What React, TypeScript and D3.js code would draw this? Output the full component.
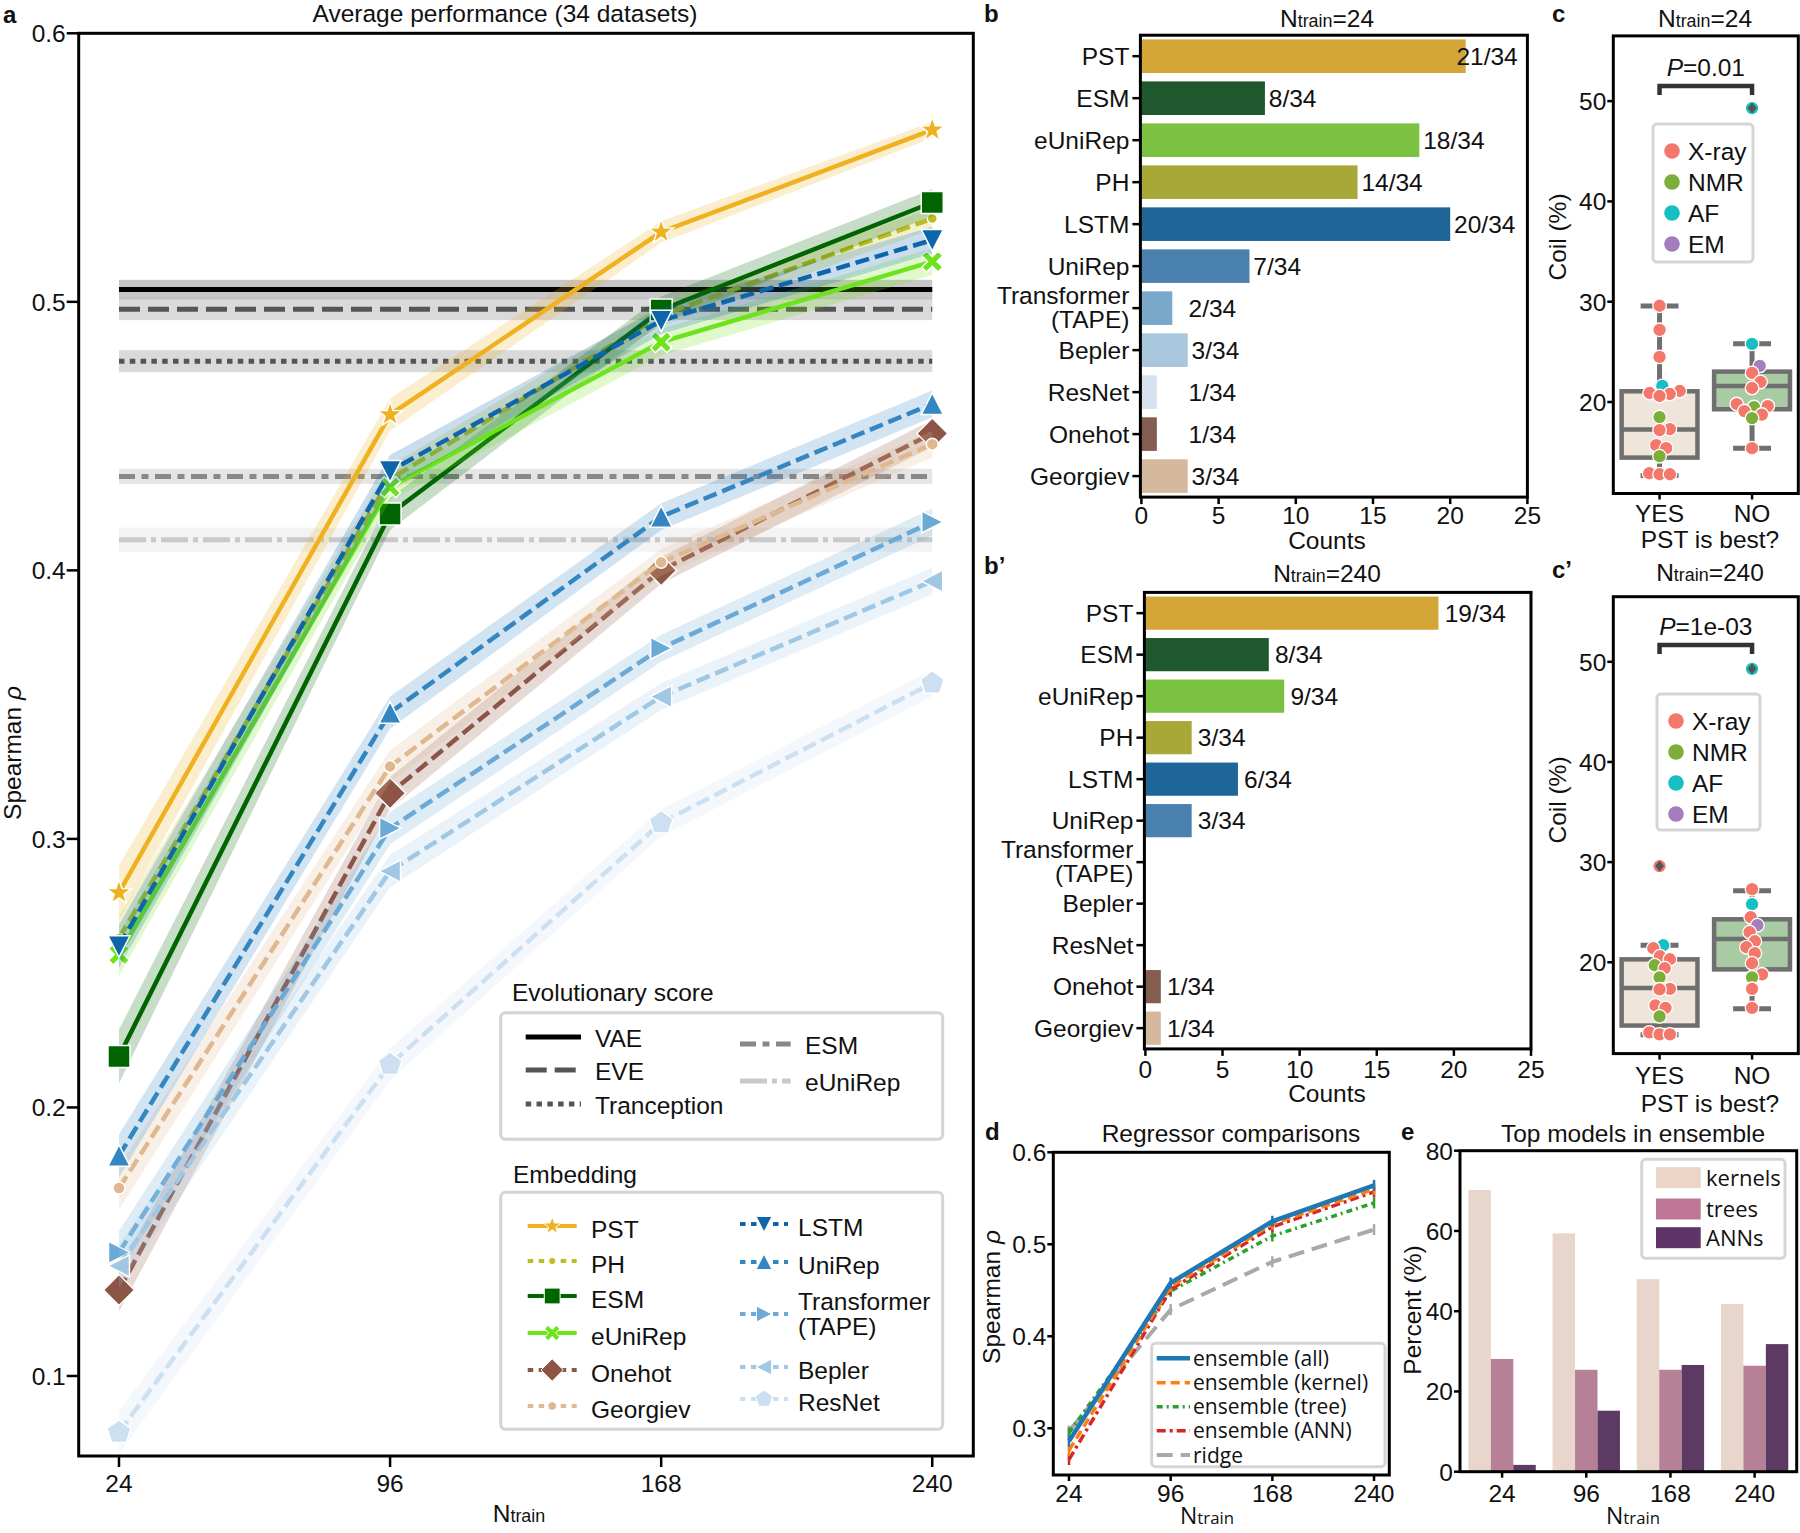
import React, { useEffect } from 'react';
import * as d3 from 'd3';

const FONT = "'Liberation Sans', Arial, Helvetica, sans-serif";
const FONT_ALT = "'Open Sans', 'Liberation Sans', sans-serif";
const FS = 24.5;
const INK = '#111';
const LETTER_FS = 24;

// ---------------- shared ----------------
const nTrain = [24, 96, 168, 240];
const nTrainLabels = ['24', '96', '168', '240'];

// ---------------- panel a data ----------------
const aYTicks = [0.1, 0.2, 0.3, 0.4, 0.5, 0.6];
const evoNames = ['VAE', 'EVE', 'Tranception', 'ESM', 'eUniRep'];
const evoRho = [0.5046, 0.4972, 0.4779, 0.435, 0.4114];
const evoSe = [0.0036, 0.004, 0.0041, 0.0028, 0.0045];

const embNames = ['PST', 'PH', 'ESM', 'eUniRep', 'Onehot', 'Georgiev', 'LSTM', 'UniRep', 'Transformer (TAPE)', 'Bepler', 'ResNet'];
const pstRho = [0.28, 0.458, 0.526, 0.564];
const phRho = [0.263, 0.434, 0.495, 0.531];
const esmRho = [0.219, 0.421, 0.497, 0.537];
const eunirepRho = [0.257, 0.431, 0.485, 0.515];
const onehotRho = [0.132, 0.317, 0.4, 0.451];
const georgievRho = [0.17, 0.327, 0.403, 0.447];
const lstmRho = [0.26, 0.437, 0.493, 0.523];
const unirepRho = [0.182, 0.347, 0.42, 0.462];
const tapeRho = [0.146, 0.304, 0.371, 0.418];
const beplerRho = [0.141, 0.288, 0.353, 0.396];
const resnetRho = [0.079, 0.216, 0.306, 0.358];

const pstSe = [0.01, 0.006, 0.004, 0.003];
const phSe = [0.008, 0.005, 0.004, 0.004];
const esmSe = [0.01, 0.006, 0.005, 0.005];
const eunirepSe = [0.008, 0.005, 0.005, 0.005];
const onehotSe = [0.008, 0.006, 0.005, 0.005];
const georgievSe = [0.008, 0.006, 0.005, 0.005];
const lstmSe = [0.008, 0.006, 0.005, 0.005];
const unirepSe = [0.008, 0.006, 0.005, 0.005];
const tapeSe = [0.008, 0.006, 0.005, 0.005];
const beplerSe = [0.008, 0.006, 0.005, 0.005];
const resnetSe = [0.008, 0.006, 0.005, 0.005];

const embRho = [pstRho, phRho, esmRho, eunirepRho, onehotRho, georgievRho, lstmRho, unirepRho, tapeRho, beplerRho, resnetRho];
const embSe = [pstSe, phSe, esmSe, eunirepSe, onehotSe, georgievSe, lstmSe, unirepSe, tapeSe, beplerSe, resnetSe];

// styles (panel a)
const evoColors = ['#000000', '#555555', '#555555', '#888888', '#c9c9c9'];
const evoDash = ['', '21 8', '5.5 5.3', '16 6.5 7 6.5', '27 5 5 5'];
const embColors = ['#efb120', '#bcbd22', '#006400', '#6de31c', '#8c5546', '#e0b890', '#0d65ab', '#3486c3', '#6ba9d6', '#a0c8e4', '#cce0f1'];
const embMarkers = ['star', 'circleS', 'square', 'x', 'diamond', 'circle', 'triDown', 'triUp', 'triRight', 'triLeft', 'pentagon'];
const embDashed = [false, true, false, false, true, true, true, true, true, true, true];

// ---------------- panel b data ----------------
const barCats = ['PST', 'ESM', 'eUniRep', 'PH', 'LSTM', 'UniRep', 'Transformer\n(TAPE)', 'Bepler', 'ResNet', 'Onehot', 'Georgiev'];
const countsN24 = [21, 8, 18, 14, 20, 7, 2, 3, 1, 1, 3];
const countsN240 = [19, 8, 9, 3, 6, 3, 0, 0, 0, 1, 1];
const countTicks = [0, 5, 10, 15, 20, 25];
const nDatasets = 34;
const barColors = ['#d4a637', '#1e582c', '#7bc242', '#a8a838', '#1f6698', '#4a80ae', '#7aa8ca', '#a9c7dc', '#d6e3ee', '#845d50', '#d5b99e'];

// ---------------- panel c data ----------------
const coilTicks = [20, 30, 40, 50];
const pstBestCats = ['YES', 'NO'];
const structTypes = ['X-ray', 'NMR', 'AF', 'EM'];
const structColors = ['#f4776b', '#7cae3a', '#18bfc2', '#a37dbd'];
// box stats: [q1, median, q3, whiskerLow, whiskerHigh]
const boxN24Yes = [14.46, 17.25, 21.07, 12.67, 29.57];
const boxN24No = [19.28, 21.6, 23.03, 15.4, 25.8];
const boxN240Yes = [13.68, 17.43, 20.29, 12.75, 21.71];
const boxN240No = [19.29, 22.32, 24.29, 15.36, 27.15];
const fliersN24Yes: number[] = [];
const fliersN24No = [49.3];
const fliersN240Yes = [29.6];
const fliersN240No = [49.3];
const coilN24Yes = [29.6, 27.2, 24.5, 21.6, 21.1, 20.9, 20.8, 20.6, 18.5, 17.3, 17.2, 15.7, 15.4, 14.6, 12.9, 12.8, 12.8];
const typeN24Yes = ['X-ray', 'X-ray', 'X-ray', 'AF', 'X-ray', 'X-ray', 'X-ray', 'X-ray', 'NMR', 'X-ray', 'X-ray', 'X-ray', 'X-ray', 'NMR', 'X-ray', 'X-ray', 'X-ray'];
const coilN24No = [49.3, 25.8, 23.6, 22.9, 22.0, 21.4, 19.8, 19.6, 19.5, 19.1, 18.75, 18.4, 15.4];
const typeN24No = ['AF', 'AF', 'EM', 'X-ray', 'X-ray', 'X-ray', 'X-ray', 'X-ray', 'NMR', 'X-ray', 'X-ray', 'NMR', 'X-ray'];
const coilN240Yes = [29.6, 21.7, 21.4, 20.6, 20.3, 19.7, 19.4, 18.5, 17.35, 17.3, 15.7, 15.45, 14.6, 13.0, 12.8, 12.8];
const typeN240Yes = ['X-ray', 'AF', 'X-ray', 'X-ray', 'X-ray', 'NMR', 'X-ray', 'NMR', 'X-ray', 'X-ray', 'X-ray', 'X-ray', 'NMR', 'X-ray', 'X-ray', 'X-ray'];
const coilN240No = [49.3, 27.3, 25.8, 24.5, 23.7, 23.0, 22.1, 21.5, 20.9, 19.9, 18.8, 18.5, 17.35, 15.45];
const typeN240No = ['AF', 'X-ray', 'AF', 'X-ray', 'EM', 'X-ray', 'X-ray', 'X-ray', 'X-ray', 'X-ray', 'X-ray', 'NMR', 'X-ray', 'X-ray'];

// ---------------- panel d data ----------------
const regNames = ['ensemble (all)', 'ensemble (kernel)', 'ensemble (tree)', 'ensemble (ANN)', 'ridge'];
const regAll = [0.286, 0.458, 0.525, 0.564];
const regKernel = [0.276, 0.454, 0.522, 0.56];
const regTree = [0.295, 0.449, 0.509, 0.545];
const regAnn = [0.266, 0.451, 0.519, 0.557];
const regRidge = [0.297, 0.429, 0.481, 0.516];
const regVals = [regAll, regKernel, regTree, regAnn, regRidge];
const dTicks = [0.3, 0.4, 0.5, 0.6];
const regColors = ['#1f77b4', '#ff7f0e', '#2ca02c', '#d62728', '#a9a9a9'];
const regDash = ['', '9 5', '6 4 2 4', '9 4 3 4', '16 8'];
const regWidth = [4.5, 3.5, 3.5, 3.5, 4];

// ---------------- panel e data ----------------
const modelTypes = ['kernels', 'trees', 'ANNs'];
const pctKernels = [70.2, 59.4, 48.0, 41.8];
const pctTrees = [28.1, 25.4, 25.4, 26.4];
const pctAnns = [1.7, 15.2, 26.6, 31.8];
const pctVals = [pctKernels, pctTrees, pctAnns];
const eTicks = [0, 20, 40, 60, 80];
const modelColors = ['#e8d5cb', '#b68097', '#5c3a64'];
const modelLegendColors = ['#ecd4c6', '#bd7795', '#5f3467'];

// ---------------- helpers ----------------
function markerPath(kind: string, k = 1): string {
  const P = (pts: number[][]) => 'M' + pts.map((p) => `${(p[0] * k).toFixed(2)},${(p[1] * k).toFixed(2)}`).join('L') + 'Z';
  const polar = (n: number, R: number, rot = 0) =>
    d3.range(n).map((i) => {
      const a = rot + (i * 2 * Math.PI) / n;
      return [R * Math.sin(a), -R * Math.cos(a)];
    });
  switch (kind) {
    case 'star':
      return P(
        d3.range(10).map((i) => {
          const a = (i * Math.PI) / 5;
          const R = i % 2 ? 5.2 : 13;
          return [R * Math.sin(a), -R * Math.cos(a)];
        })
      );
    case 'circle':
    case 'circleS': {
      const r = (kind === 'circle' ? 6 : 5) * k;
      return `M${-r},0A${r},${r} 0 1,0 ${r},0A${r},${r} 0 1,0 ${-r},0Z`;
    }
    case 'square':
      return P([[-11, -11], [11, -11], [11, 11], [-11, 11]]);
    case 'diamond':
      return P([[0, -15.5], [15.5, 0], [0, 15.5], [-15.5, 0]]);
    case 'triUp':
      return P([[0, -11], [11, 10.5], [-11, 10.5]]);
    case 'triDown':
      return P([[0, 11], [11, -10.5], [-11, -10.5]]);
    case 'triRight':
      return P([[11, 0], [-10.5, 11], [-10.5, -11]]);
    case 'triLeft':
      return P([[-11, 0], [10.5, 11], [10.5, -11]]);
    case 'pentagon':
      return P(polar(5, 12.5));
    case 'x': {
      const a = 3.4;
      const L = 11.5;
      const plus = [[a, L], [a, a], [L, a], [L, -a], [a, -a], [a, -L], [-a, -L], [-a, -a], [-L, -a], [-L, a], [-a, a], [-a, L]];
      const s = Math.SQRT1_2;
      return P(plus.map(([px, py]) => [(px - py) * s, (px + py) * s]));
    }
  }
  return '';
}

function NtrainText({ x, y, suffix = '', anchor = 'middle', size = FS, family = FONT }: any) {
  return (
    <text x={x} y={y} textAnchor={anchor} fontSize={size} fontFamily={family} fill={INK}>
      N<tspan fontSize={size * 0.73}>train</tspan>
      {suffix}
    </text>
  );
}

function swarm(vals: number[], ys: (v: number) => number, r: number): number[] {
  const order = d3.range(vals.length).sort((a, b) => vals[a] - vals[b]);
  const placed: { x: number; y: number }[] = [];
  const offs = new Array(vals.length).fill(0);
  for (const i of order) {
    const yi = ys(vals[i]);
    const cands = [0];
    for (const p of placed) {
      const dy = Math.abs(p.y - yi);
      if (dy < 2 * r) {
        const dx = Math.sqrt(4 * r * r - dy * dy);
        cands.push(p.x + dx, p.x - dx);
      }
    }
    cands.sort((a, b) => Math.abs(a) - Math.abs(b));
    let best = 0;
    for (const c of cands) {
      if (placed.every((p) => (p.x - c) ** 2 + (p.y - yi) ** 2 >= 4 * r * r - 0.01)) {
        best = c;
        break;
      }
    }
    offs[i] = best;
    placed.push({ x: best, y: yi });
  }
  return offs;
}

// ---------------- panel a ----------------
function PanelA() {
  const L = 78.7, R = 973.3, T = 33.3, B = 1456;
  const x = d3.scaleLinear().domain([13.3, 250.9]).range([L, R]);
  const y = d3.scaleLinear().domain([0.0702, 0.6]).range([B, T]);
  const line = d3
    .line<number>()
    .x((_, j) => x(nTrain[j]))
    .y((v) => y(v));
  const area = (vals: number[], se: number[]) =>
    d3
      .area<number>()
      .x((_, j) => x(nTrain[j]))
      .y0((v, j) => y(v - se[j]))
      .y1((v, j) => y(v + se[j]))(vals) || '';

  const evoLegend = [
    { i: 0, col: 0, y: 1037 },
    { i: 1, col: 0, y: 1070 },
    { i: 2, col: 0, y: 1104 },
    { i: 3, col: 1, y: 1044 },
    { i: 4, col: 1, y: 1081 },
  ];
  const evoCols = [
    { x0: 525.7, x1: 581, tx: 595 },
    { x0: 740, x1: 790.7, tx: 805 },
  ];
  const embLegend = [
    { i: 0, col: 0, y: 1226 },
    { i: 1, col: 0, y: 1261 },
    { i: 2, col: 0, y: 1296 },
    { i: 3, col: 0, y: 1333 },
    { i: 4, col: 0, y: 1370 },
    { i: 5, col: 0, y: 1406 },
    { i: 6, col: 1, y: 1224 },
    { i: 7, col: 1, y: 1262 },
    { i: 8, col: 1, y: 1314 },
    { i: 9, col: 1, y: 1367 },
    { i: 10, col: 1, y: 1399 },
  ];
  const embCols = [
    { x0: 527.7, x1: 576.7, tx: 591 },
    { x0: 740, x1: 788, tx: 798 },
  ];

  return (
    <g>
      <text x={3} y={23} fontSize={LETTER_FS} fontWeight="bold" fill={INK}>a</text>
      <text x={505} y={22} textAnchor="middle" fontSize={FS} fill={INK}>Average performance (34 datasets)</text>

      {/* evolutionary score bands + lines */}
      {evoNames.map((n, i) => (
        <rect key={'eb' + n} x={x(24)} width={x(240) - x(24)} y={y(evoRho[i] + evoSe[i])} height={y(evoRho[i] - evoSe[i]) - y(evoRho[i] + evoSe[i])} fill={evoColors[i]} opacity={0.22} />
      ))}
      {evoNames.map((n, i) => (
        <line key={'el' + n} x1={x(24)} x2={x(240)} y1={y(evoRho[i])} y2={y(evoRho[i])} stroke={evoColors[i]} strokeWidth={5} strokeDasharray={evoDash[i] || undefined} />
      ))}

      {/* embeddings */}
      {embNames.map((n, i) => (
        <g key={'emb' + n}>
          <path d={area(embRho[i], embSe[i])} fill={embColors[i]} opacity={0.22} />
          <path d={line(embRho[i]) || ''} fill="none" stroke={embColors[i]} strokeWidth={4.5} strokeDasharray={embDashed[i] ? '14 6' : undefined} />
          {embRho[i].map((v, j) => (
            <path key={j} d={markerPath(embMarkers[i])} transform={`translate(${x(nTrain[j])},${y(v)})`} fill={embColors[i]} stroke="#fff" strokeWidth={1.5} />
          ))}
        </g>
      ))}

      {/* frame */}
      <rect x={L} y={T} width={R - L} height={B - T} fill="none" stroke="#000" strokeWidth={3} />
      {aYTicks.map((t) => (
        <g key={'ay' + t}>
          <line x1={L - 12} x2={L} y1={y(t)} y2={y(t)} stroke="#000" strokeWidth={2.5} />
          <text x={L - 13} y={y(t)} dy="0.36em" textAnchor="end" fontSize={FS} fill={INK}>{t.toFixed(1)}</text>
        </g>
      ))}
      {nTrain.map((t, j) => (
        <g key={'ax' + t}>
          <line x1={x(t)} x2={x(t)} y1={B} y2={B + 11} stroke="#000" strokeWidth={2.5} />
          <text x={x(t)} y={1492} textAnchor="middle" fontSize={FS} fill={INK}>{nTrainLabels[j]}</text>
        </g>
      ))}
      <text transform="translate(21,753) rotate(-90)" textAnchor="middle" fontSize={FS} fill={INK}>
        Spearman <tspan fontStyle="italic">ρ</tspan>
      </text>
      <NtrainText x={519} y={1522} />

      {/* legend: evolutionary score */}
      <text x={512} y={1001} fontSize={FS} fill={INK}>Evolutionary score</text>
      <rect x={500.7} y={1012.7} width={442} height={126.6} rx={5} fill="#fff" fillOpacity={0.85} stroke="#d4d4d4" strokeWidth={3} />
      {evoLegend.map((e) => {
        const c = evoCols[e.col];
        return (
          <g key={'el' + e.i}>
            <line x1={c.x0} x2={c.x1} y1={e.y} y2={e.y} stroke={evoColors[e.i]} strokeWidth={5} strokeDasharray={evoDash[e.i] || undefined} />
            <text x={c.tx} y={e.y + 1.5} dy="0.36em" fontSize={FS} fill={INK}>{evoNames[e.i]}</text>
          </g>
        );
      })}

      {/* legend: embedding */}
      <text x={513} y={1183} fontSize={FS} fill={INK}>Embedding</text>
      <rect x={500.7} y={1192.3} width={442} height={237} rx={5} fill="#fff" fillOpacity={0.85} stroke="#d4d4d4" strokeWidth={3} />
      {embLegend.map((e) => {
        const c = embCols[e.col];
        const cx = (c.x0 + c.x1) / 2;
        return (
          <g key={'eml' + e.i}>
            <line x1={c.x0} x2={c.x1} y1={e.y} y2={e.y} stroke={embColors[e.i]} strokeWidth={4} strokeDasharray={embDashed[e.i] ? '5.5 5.5' : undefined} />
            <path d={markerPath(embMarkers[e.i], 0.72)} transform={`translate(${cx},${e.y})`} fill={embColors[e.i]} stroke="#fff" strokeWidth={1} />
            {e.i === 8 ? (
              <text x={c.tx} fontSize={FS} fill={INK}>
                <tspan x={c.tx} y={e.y - 13} dy="0.36em">Transformer</tspan>
                <tspan x={c.tx} y={e.y + 12} dy="0.36em">(TAPE)</tspan>
              </text>
            ) : (
              <text x={c.tx} y={e.y + 3} dy="0.36em" fontSize={FS} fill={INK}>{embNames[e.i]}</text>
            )}
          </g>
        );
      })}
    </g>
  );
}

// ---------------- panel b ----------------
function BarPanel(props: any) {
  const { vals, l, r, t, b, titleSuffix, titleBase, letter, letterBase, tickBase, countsBase, labelRule } = props;
  const x = d3.scaleLinear().domain([0, 25]).range([l + 1, r]);
  const y = d3.scaleBand<string>().domain(barCats).range([t, b]).paddingInner(0.2).paddingOuter(0.1);
  const mid = (c: string) => (y(c) as number) + y.bandwidth() / 2;
  return (
    <g>
      <text x={984} y={letterBase} fontSize={LETTER_FS} fontWeight="bold" fill={INK}>{letter}</text>
      <NtrainText x={1327} y={titleBase} suffix={titleSuffix} />
      {barCats.map((c, i) =>
        vals[i] > 0 ? <rect key={'bar' + c} x={x(0)} y={y(c)} width={x(vals[i]) - x(0)} height={y.bandwidth()} fill={barColors[i]} /> : null
      )}
      {barCats.map((c, i) =>
        vals[i] > 0 ? (
          <text key={'lab' + c} x={x(labelRule(vals[i]))} y={mid(c)} dy="0.36em" fontSize={FS} fill={INK}>
            {vals[i]}/{nDatasets}
          </text>
        ) : null
      )}
      <rect x={l} y={t} width={r - l} height={b - t} fill="none" stroke="#000" strokeWidth={3} />
      {barCats.map((c) => (
        <g key={'ct' + c}>
          <line x1={l - 8} x2={l} y1={mid(c)} y2={mid(c)} stroke="#000" strokeWidth={2.5} />
          {c.includes('\n') ? (
            <text fontSize={FS} textAnchor="end" fill={INK}>
              <tspan x={l - 11} y={mid(c) - 13} dy="0.36em">{c.split('\n')[0]}</tspan>
              <tspan x={l - 11} y={mid(c) + 11} dy="0.36em">{c.split('\n')[1]}</tspan>
            </text>
          ) : (
            <text x={l - 11} y={mid(c)} dy="0.36em" textAnchor="end" fontSize={FS} fill={INK}>{c}</text>
          )}
        </g>
      ))}
      {countTicks.map((tk) => (
        <g key={'xt' + tk}>
          <line x1={x(tk)} x2={x(tk)} y1={b} y2={b + 7} stroke="#000" strokeWidth={2.5} />
          <text x={x(tk)} y={tickBase} textAnchor="middle" fontSize={FS} fill={INK}>{tk}</text>
        </g>
      ))}
      <text x={1327} y={countsBase} textAnchor="middle" fontSize={FS} fill={INK}>Counts</text>
    </g>
  );
}

// ---------------- panel c ----------------
function BoxPanel(props: any) {
  const { t, b, stats, fliers, pts, types, titleSuffix, titleCx, titleBase, letter, letterBase, pLabel, bracketTop, legendBox, catBase, xlabBase, ylabY } = props;
  const l = 1613.3, r = 1798.3;
  const x = d3.scaleBand<string>().domain(pstBestCats).range([l, r]);
  const y = d3.scaleLinear().domain([10.88, 56.5]).range([b, t]);
  const cx = (c: string) => (x(c) as number) + x.bandwidth() / 2;
  const hw = x.bandwidth() * 0.41;
  const boxFill = ['#efe5da', '#a8cba3'];
  const edge = '#6f6f6f';
  const rowStep = 31;
  return (
    <g>
      <text x={1552} y={letterBase} fontSize={LETTER_FS} fontWeight="bold" fill={INK}>{letter}</text>
      <NtrainText x={titleCx} y={titleBase} suffix={titleSuffix} />
      {pstBestCats.map((c, k) => {
        const [q1, med, q3, wl, wh] = stats[k];
        const X = cx(c);
        return (
          <g key={'box' + c}>
            <line x1={X} x2={X} y1={y(q3)} y2={y(wh)} stroke={edge} strokeWidth={5} />
            <line x1={X} x2={X} y1={y(q1)} y2={y(wl)} stroke={edge} strokeWidth={5} />
            <line x1={X - hw / 2} x2={X + hw / 2} y1={y(wh)} y2={y(wh)} stroke={edge} strokeWidth={5} />
            <line x1={X - hw / 2} x2={X + hw / 2} y1={y(wl)} y2={y(wl)} stroke={edge} strokeWidth={5} />
            <rect x={X - hw} y={y(q3)} width={2 * hw} height={y(q1) - y(q3)} fill={boxFill[k]} stroke={edge} strokeWidth={4.5} />
            <line x1={X - hw} x2={X + hw} y1={y(med)} y2={y(med)} stroke={edge} strokeWidth={4.5} />
          </g>
        );
      })}
      {pstBestCats.map((c, k) => {
        const offs = swarm(pts[k], y, 5.2);
        return (
          <g key={'pts' + c}>
            {pts[k].map((v: number, j: number) => (
              <circle key={j} cx={cx(c) + offs[j]} cy={y(v)} r={6.8} fill={structColors[structTypes.indexOf(types[k][j])]} stroke="#fff" strokeWidth={1.3} />
            ))}
            {fliers[k].map((v: number, j: number) => (
              <path key={'f' + j} d={`M0,-5.5L4.5,0L0,5.5L-4.5,0Z`} transform={`translate(${cx(c)},${y(v)})`} fill="#555" />
            ))}
          </g>
        );
      })}
      {/* significance bracket */}
      <path d={`M${cx('YES')},${bracketTop + 9}V${bracketTop}H${cx('NO')}V${bracketTop + 9}`} fill="none" stroke="#333" strokeWidth={4.5} />
      <text x={(cx('YES') + cx('NO')) / 2} y={bracketTop - 10.5} textAnchor="middle" fontSize={FS} fill={INK}>
        <tspan fontStyle="italic">P</tspan>={pLabel}
      </text>
      {/* legend */}
      <rect x={legendBox.x} y={legendBox.y} width={legendBox.w} height={legendBox.h} rx={4} fill="#fff" fillOpacity={0.85} stroke="#d5d5d5" strokeWidth={3} />
      {structTypes.map((s, i) => (
        <g key={'lg' + s}>
          <circle cx={legendBox.x + 19} cy={legendBox.y + 27 + i * rowStep} r={7.8} fill={structColors[i]} />
          <text x={legendBox.x + 35} y={legendBox.y + 27 + i * rowStep} dy="0.36em" fontSize={FS} fill={INK}>{s}</text>
        </g>
      ))}
      <rect x={l} y={t} width={r - l} height={b - t} fill="none" stroke="#000" strokeWidth={3} />
      {coilTicks.map((tk) => (
        <g key={'cy' + tk}>
          <line x1={l - 6} x2={l} y1={y(tk)} y2={y(tk)} stroke="#000" strokeWidth={2.5} />
          <text x={l - 7} y={y(tk)} dy="0.36em" textAnchor="end" fontSize={FS} fill={INK}>{tk}</text>
        </g>
      ))}
      {pstBestCats.map((c) => (
        <g key={'cx' + c}>
          <line x1={cx(c)} x2={cx(c)} y1={b} y2={b + 6} stroke="#000" strokeWidth={2.5} />
          <text x={cx(c)} y={catBase} textAnchor="middle" fontSize={FS} fill={INK}>{c}</text>
        </g>
      ))}
      <text x={1710} y={xlabBase} textAnchor="middle" fontSize={FS} fill={INK}>PST is best?</text>
      <text transform={`translate(1566,${ylabY}) rotate(-90)`} textAnchor="middle" fontSize={FS} fill={INK}>Coil (%)</text>
    </g>
  );
}

// ---------------- panel d ----------------
function PanelD() {
  const l = 1053.3, r = 1389.3, t = 1152.3, b = 1475;
  const x = d3.scaleLinear().domain([12.9, 250.8]).range([l, r]);
  const y = d3.scaleLinear().domain([0.2492, 0.6]).range([b, t]);
  const line = d3
    .line<number>()
    .x((_, j) => x(nTrain[j]))
    .y((v) => y(v));
  const legendRows = [1358.3, 1382.7, 1406.7, 1430.7, 1455];
  return (
    <g>
      <text x={985} y={1140} fontSize={LETTER_FS} fontWeight="bold" fill={INK}>d</text>
      <text x={1231} y={1141.5} textAnchor="middle" fontSize={FS} fill={INK}>Regressor comparisons</text>
      {[4, 2, 3, 1, 0].map((i) => (
        <g key={'rg' + i}>
          <path d={line(regVals[i]) || ''} fill="none" stroke={regColors[i]} strokeWidth={regWidth[i]} strokeDasharray={regDash[i] || undefined} />
          {regVals[i].map((v, j) => (
            <line key={j} x1={x(nTrain[j])} x2={x(nTrain[j])} y1={y(v - 0.006)} y2={y(v + 0.006)} stroke={regColors[i]} strokeWidth={2.5} />
          ))}
        </g>
      ))}
      <rect x={1151.7} y={1343.3} width={233.3} height={123.4} rx={4} fill="#fff" fillOpacity={0.85} stroke="#d5d5d5" strokeWidth={3} />
      {regNames.map((n, i) => (
        <g key={'rl' + n}>
          <line x1={1156.7} x2={1190} y1={legendRows[i]} y2={legendRows[i]} stroke={regColors[i]} strokeWidth={regWidth[i]} strokeDasharray={regDash[i] || undefined} />
          <text x={1193} y={legendRows[i]} dy="0.36em" fontSize={21} fontFamily={FONT_ALT} fill={INK}>{n}</text>
        </g>
      ))}
      <rect x={l} y={t} width={r - l} height={b - t} fill="none" stroke="#000" strokeWidth={3} />
      {dTicks.map((tk) => (
        <g key={'dy' + tk}>
          <line x1={l - 6} x2={l} y1={y(tk)} y2={y(tk)} stroke="#000" strokeWidth={2.5} />
          <text x={l - 7} y={y(tk)} dy="0.36em" textAnchor="end" fontSize={FS} fill={INK}>{tk.toFixed(1)}</text>
        </g>
      ))}
      {nTrain.map((tk, j) => (
        <g key={'dx' + tk}>
          <line x1={x(tk)} x2={x(tk)} y1={b} y2={b + 6} stroke="#000" strokeWidth={2.5} />
          <text x={x(tk)} y={1502} textAnchor="middle" fontSize={FS} fill={INK}>{nTrainLabels[j]}</text>
        </g>
      ))}
      <text transform="translate(1000,1297) rotate(-90)" textAnchor="middle" fontSize={FS} fill={INK}>
        Spearman <tspan fontStyle="italic">ρ</tspan>
      </text>
      <NtrainText x={1207} y={1524} size={23} family={FONT_ALT} />
    </g>
  );
}

// ---------------- panel e ----------------
function PanelE() {
  const l = 1460, r = 1796.7, t = 1150.7, b = 1471.7;
  const x0 = d3.scaleBand<string>().domain(nTrainLabels).range([l, r]).paddingInner(0.2).paddingOuter(0.1);
  const x1 = d3.scaleBand<string>().domain(modelTypes).range([0, x0.bandwidth()]);
  const y = d3.scaleLinear().domain([0, 80]).range([b, t]);
  const legendRows = [1177.7, 1209, 1237.7];
  return (
    <g>
      <text x={1401} y={1140} fontSize={LETTER_FS} fontWeight="bold" fill={INK}>e</text>
      <text x={1633} y={1141.5} textAnchor="middle" fontSize={FS} fill={INK}>Top models in ensemble</text>
      {nTrainLabels.map((g, j) => (
        <g key={'eg' + g}>
          {modelTypes.map((m, k) => (
            <rect key={m} x={(x0(g) as number) + (x1(m) as number)} width={x1.bandwidth()} y={y(pctVals[k][j])} height={b - y(pctVals[k][j])} fill={modelColors[k]} />
          ))}
        </g>
      ))}
      <rect x={1641.7} y={1159.3} width={143.3} height={99} rx={4} fill="#fff" fillOpacity={0.85} stroke="#d5d5d5" strokeWidth={3} />
      {modelTypes.map((m, k) => (
        <g key={'el' + m}>
          <rect x={1656} y={legendRows[k] - 10.5} width={44.7} height={21} fill={modelLegendColors[k]} />
          <text x={1706} y={legendRows[k]} dy="0.36em" fontSize={22} fontFamily={FONT_ALT} fill={INK}>{m}</text>
        </g>
      ))}
      <rect x={l} y={t} width={r - l} height={b - t} fill="none" stroke="#000" strokeWidth={3} />
      {eTicks.map((tk) => (
        <g key={'ey' + tk}>
          <line x1={l - 6} x2={l} y1={y(tk)} y2={y(tk)} stroke="#000" strokeWidth={2.5} />
          <text x={l - 7} y={y(tk)} dy="0.36em" textAnchor="end" fontSize={FS} fill={INK}>{tk}</text>
        </g>
      ))}
      {nTrainLabels.map((g) => {
        const c = (x0(g) as number) + x0.bandwidth() / 2;
        return (
          <g key={'ex' + g}>
            <line x1={c} x2={c} y1={b} y2={b + 6} stroke="#000" strokeWidth={2.5} />
            <text x={c} y={1502} textAnchor="middle" fontSize={FS} fill={INK}>{g}</text>
          </g>
        );
      })}
      <text transform="translate(1421,1310) rotate(-90)" textAnchor="middle" fontSize={FS} fill={INK}>Percent (%)</text>
      <NtrainText x={1633} y={1524} size={23} family={FONT_ALT} />
    </g>
  );
}

export default function App() {
  useEffect(() => {
    document.body.style.margin = '0';
  }, []);
  return (
    <svg width={1800} height={1533} viewBox="0 0 1800 1533" style={{ display: 'block', position: 'absolute', left: 0, top: 0 }} fontFamily={FONT}>
      <rect width={1800} height={1533} fill="#fff" />
      <PanelA />
      <BarPanel
        vals={countsN24}
        l={1140.4}
        r={1527.4}
        t={35.2}
        b={497.1}
        titleSuffix="=24"
        titleBase={27}
        letter="b"
        letterBase={22}
        tickBase={524}
        countsBase={549}
        labelRule={(v: number) => Math.min(Math.max(v + 0.25, 3.05), 20.4)}
      />
      <BarPanel
        vals={countsN240}
        l={1144.4}
        r={1531}
        t={592.4}
        b={1048.9}
        titleSuffix="=240"
        titleBase={581.6}
        letter="b’"
        letterBase={574}
        tickBase={1078}
        countsBase={1102}
        labelRule={(v: number) => v + 0.4}
      />
      <BoxPanel
        t={35.9}
        b={493.5}
        stats={[boxN24Yes, boxN24No]}
        fliers={[fliersN24Yes, fliersN24No]}
        pts={[coilN24Yes, coilN24No]}
        types={[typeN24Yes, typeN24No]}
        titleSuffix="=24"
        titleCx={1705}
        titleBase={27}
        letter="c"
        letterBase={22}
        pLabel="0.01"
        bracketTop={86}
        legendBox={{ x: 1653, y: 124, w: 100, h: 138 }}
        catBase={522}
        xlabBase={548}
        ylabY={237}
      />
      <BoxPanel
        t={596.7}
        b={1053.6}
        stats={[boxN240Yes, boxN240No]}
        fliers={[fliersN240Yes, fliersN240No]}
        pts={[coilN240Yes, coilN240No]}
        types={[typeN240Yes, typeN240No]}
        titleSuffix="=240"
        titleCx={1710}
        titleBase={580.5}
        letter="c’"
        letterBase={578}
        pLabel="1e-03"
        bracketTop={645}
        legendBox={{ x: 1657, y: 694, w: 103, h: 136 }}
        catBase={1084}
        xlabBase={1112}
        ylabY={800}
      />
      <PanelD />
      <PanelE />
    </svg>
  );
}
